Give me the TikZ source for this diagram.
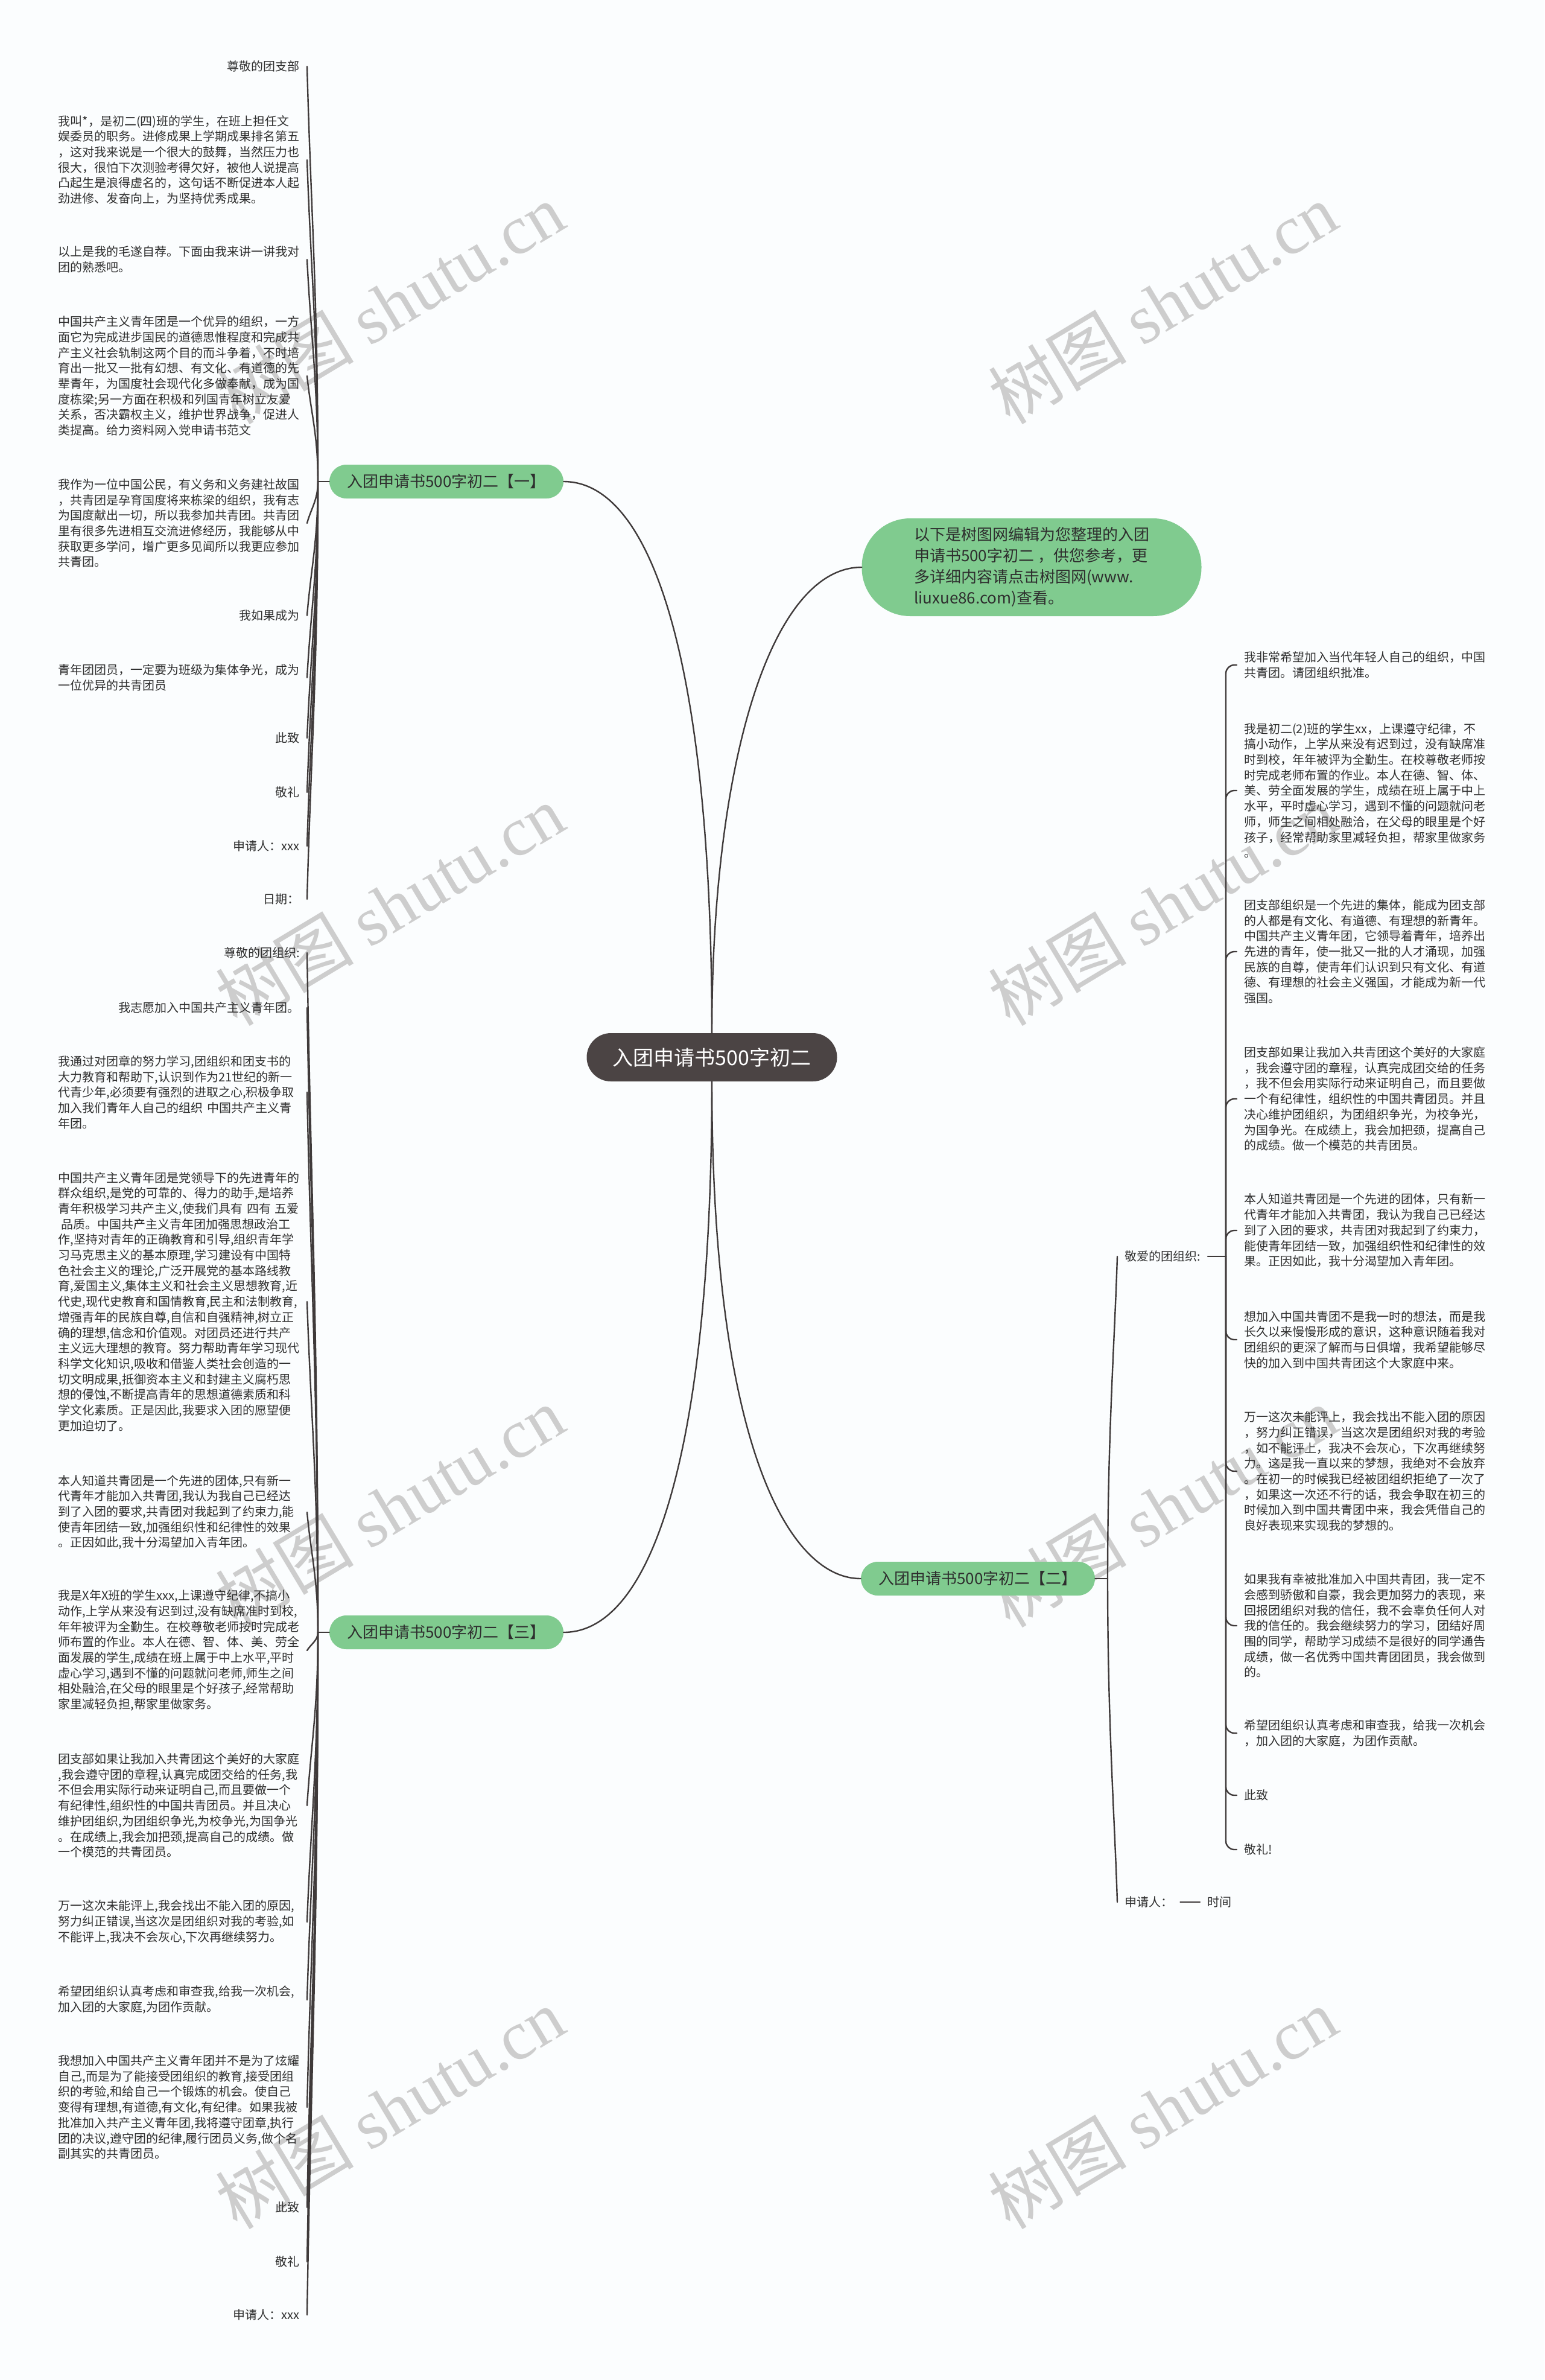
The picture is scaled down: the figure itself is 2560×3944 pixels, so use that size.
\documentclass[tikz,border=0pt]{standalone}
\usepackage{fontspec}
\setmainfont{Noto Sans CJK SC}
\newfontfamily\wmserif{Liberation Serif}
\usetikzlibrary{calc}
\definecolor{bgc}{HTML}{FBFDFE}
\definecolor{linec}{HTML}{3F3A3A}
\definecolor{textc}{HTML}{2E2E2E}
\definecolor{greenc}{HTML}{80CB8F}
\definecolor{darkc}{HTML}{4B4444}
\definecolor{wmc}{HTML}{CDCDCD}
\newcommand\lkid[2]{\draw[conn] (#1) .. controls ($(#1)!0.45!(#1|-#2.east)$) and ($(#2.east)!0.35!(#1)$) .. (#2.east);}
\newcommand\rkid[2]{\draw[conn,rounded corners=14pt] (#1) |- (#2.west);}
\begin{document}
\begin{tikzpicture}[x=1pt,y=-1pt,
  conn/.style={draw=linec,line width=2.4pt,line cap=round},
  txt/.style={font=\fontsize{20}{25.7}\selectfont,text=textc,inner xsep=12pt,inner ysep=2pt,align=left},
  ltxt/.style={txt,anchor=east},
  lpara/.style={ltxt,text width=400pt},
  rtxt/.style={txt,anchor=west},
  branch/.style={fill=greenc,rounded corners=28pt,minimum width=388pt,minimum height=56pt,font=\fontsize{26}{30}\selectfont,text=textc,inner sep=0},
  rootc/.style={fill=darkc,rounded corners=40pt,minimum width=415pt,minimum height=80pt,font=\fontsize{34}{40}\selectfont,text=white,inner sep=0},
  infoc/.style={fill=greenc,rounded corners=80pt,minimum width=563pt,minimum height=162pt,font=\fontsize{26}{35}\selectfont,text=textc,align=left},
  wm/.style={font=\fontsize{115}{115}\selectfont,text=wmc,rotate=31,inner sep=0}]
\fill[bgc] (0,0) rectangle (2560,3944);
\useasboundingbox (0,0) rectangle (2560,3944);
% watermarks
\foreach \wy in {503,1500,2497,3494}{
  \foreach \wx in {646,1927}{
    \node[wm] (wm-\wx-\wy) at (\wx,\wy) {树图 {\wmserif shutu.cn}};
  }
}
% main nodes
\node[rootc] (root) at (1180,1752) {入团申请书500字初二};
\node[branch] (b1) at (740,798) {入团申请书500字初二【一】};
\node[branch] (b3) at (740,2705) {入团申请书500字初二【三】};
\node[branch] (b2) at (1621,2616) {入团申请书500字初二【二】};
\node[infoc] (info) at (1710,940) {以下是树图网编辑为您整理的入团\\申请书500字初二 ，供您参考，更\\多详细内容请点击树图网(www.\\liuxue86.com)查看。};
\draw[conn] (b1.east) .. controls +(150,0) and +(0,-600) .. (root.north);
\draw[conn] (info.west) .. controls +(-150,0) and +(0,-450) .. (root.north);
\draw[conn] (b2.west) .. controls +(-120,0) and +(0,600) .. (root.south);
\draw[conn] (b3.east) .. controls +(150,0) and +(0,600) .. (root.south);
% ---------- branch one ----------
\coordinate (j1) at (527,798);
\draw[conn] (b1.west) -- (j1);
\node[ltxt] (c1) at (509,110) {尊敬的团支部};
\node[lpara] (c2) at (509,265) {我叫*，是初二(四)班的学生，在班上担任文\\娱委员的职务。进修成果上学期成果排名第五\\，这对我来说是一个很大的鼓舞，当然压力也\\很大，很怕下次测验考得欠好，被他人说提高\\凸起生是浪得虚名的，这句话不断促进本人起\\劲进修、发奋向上，为坚持优秀成果。};
\node[lpara] (c3) at (509,430) {以上是我的毛遂自荐。下面由我来讲一讲我对\\团的熟悉吧。};
\node[lpara] (c4) at (509,623) {中国共产主义青年团是一个优异的组织，一方\\面它为完成进步国民的道德思惟程度和完成共\\产主义社会轨制这两个目的而斗争着，不时培\\育出一批又一批有幻想、有文化、有道德的先\\辈青年，为国度社会现代化多做奉献，成为国\\度栋梁;另一方面在积极和列国青年树立友爱\\关系，否决霸权主义，维护世界战争，促进人\\类提高。给力资料网入党申请书范文};
\node[lpara] (c5) at (509,867) {我作为一位中国公民，有义务和义务建社故国\\，共青团是孕育国度将来栋梁的组织，我有志\\为国度献出一切，所以我参加共青团。共青团\\里有很多先进相互交流进修经历，我能够从中\\获取更多学问，增广更多见闻所以我更应参加\\共青团。};
\node[ltxt] (c6) at (509,1020) {我如果成为};
\node[lpara] (c7) at (509,1123) {青年团团员，一定要为班级为集体争光，成为\\一位优异的共青团员};
\node[ltxt] (c8) at (509,1223) {此致};
\node[ltxt] (c9) at (509,1313) {敬礼};
\node[ltxt] (c10) at (509,1402) {申请人：xxx};
\node[ltxt] (c11) at (509,1490) {日期：};
\foreach \k in {c1,c2,c3,c4,c5,c6,c7,c8,c9,c10,c11}{\lkid{j1}{\k}}
% ---------- branch three ----------
\coordinate (j3) at (527,2705);
\draw[conn] (b3.west) -- (j3);
\node[ltxt] (d1) at (509,1579) {尊敬的团组织:};
\node[ltxt] (d2) at (509,1670) {我志愿加入中国共产主义青年团。};
\node[lpara] (d3) at (509,1810) {我通过对团章的努力学习,团组织和团支书的\\大力教育和帮助下,认识到作为21世纪的新一\\代青少年,必须要有强烈的进取之心,积极争取\\加入我们青年人自己的组织~中国共产主义青\\年团。};
\node[lpara] (d4) at (509,2157) {中国共产主义青年团是党领导下的先进青年的\\群众组织,是党的可靠的、得力的助手,是培养\\青年积极学习共产主义,使我们具有~四有~五爱\\\hspace*{5pt}品质。中国共产主义青年团加强思想政治工\\作,坚持对青年的正确教育和引导,组织青年学\\习马克思主义的基本原理,学习建设有中国特\\色社会主义的理论,广泛开展党的基本路线教\\育,爱国主义,集体主义和社会主义思想教育,近\\代史,现代史教育和国情教育,民主和法制教育,\\增强青年的民族自尊,自信和自强精神,树立正\\确的理想,信念和价值观。对团员还进行共产\\主义远大理想的教育。努力帮助青年学习现代\\科学文化知识,吸收和借鉴人类社会创造的一\\切文明成果,抵御资本主义和封建主义腐朽思\\想的侵蚀,不断提高青年的思想道德素质和科\\学文化素质。正是因此,我要求入团的愿望便\\更加迫切了。};
\node[lpara] (d5) at (509,2506) {本人知道共青团是一个先进的团体,只有新一\\代青年才能加入共青团,我认为我自己已经达\\到了入团的要求,共青团对我起到了约束力,能\\使青年团结一致,加强组织性和纪律性的效果\\。正因如此,我十分渴望加入青年团。};
\node[lpara] (d6) at (509,2735) {我是X年X班的学生xxx,上课遵守纪律,不搞小\\动作,上学从来没有迟到过,没有缺席准时到校,\\年年被评为全勤生。在校尊敬老师按时完成老\\师布置的作业。本人在德、智、体、美、劳全\\面发展的学生,成绩在班上属于中上水平,平时\\虚心学习,遇到不懂的问题就问老师,师生之间\\相处融洽,在父母的眼里是个好孩子,经常帮助\\家里减轻负担,帮家里做家务。};
\node[lpara] (d7) at (509,2992) {团支部如果让我加入共青团这个美好的大家庭\\,我会遵守团的章程,认真完成团交给的任务,我\\不但会用实际行动来证明自己,而且要做一个\\有纪律性,组织性的中国共青团员。并且决心\\维护团组织,为团组织争光,为校争光,为国争光\\。在成绩上,我会加把颈,提高自己的成绩。做\\一个模范的共青团员。};
\node[lpara] (d8) at (509,3185) {万一这次未能评上,我会找出不能入团的原因,\\努力纠正错误,当这次是团组织对我的考验,如\\不能评上,我决不会灰心,下次再继续努力。};
\node[lpara] (d9) at (509,3314) {希望团组织认真考虑和审查我,给我一次机会,\\加入团的大家庭,为团作贡献。};
\node[lpara] (d10) at (509,3492) {我想加入中国共产主义青年团并不是为了炫耀\\自己,而是为了能接受团组织的教育,接受团组\\织的考验,和给自己一个锻炼的机会。使自己\\变得有理想,有道德,有文化,有纪律。如果我被\\批准加入共产主义青年团,我将遵守团章,执行\\团的决议,遵守团的纪律,履行团员义务,做个名\\副其实的共青团员。};
\node[ltxt] (d11) at (509,3658) {此致};
\node[ltxt] (d12) at (509,3748) {敬礼};
\node[ltxt] (d13) at (509,3836) {申请人：xxx};
\foreach \k in {d1,d2,d3,d4,d5,d6,d7,d8,d9,d10,d11,d12,d13}{\lkid{j3}{\k}}
% ---------- branch two ----------
\coordinate (jb2) at (1836,2616);
\draw[conn] (b2.east) -- (jb2);
\node[rtxt] (ra) at (1852,2082) {敬爱的团组织:};
\node[rtxt] (rb) at (1852,3152) {申请人：};
\node[rtxt] (rc) at (1989,3152) {时间};
\draw[conn] (jb2) .. controls ($(jb2)!0.45!(jb2|-ra.west)$) and ($(ra.west)!0.25!(jb2)$) .. (ra.west);
\draw[conn] (jb2) .. controls ($(jb2)!0.45!(jb2|-rb.west)$) and ($(rb.west)!0.25!(jb2)$) .. (rb.west);
\draw[conn] (rb.east) -- (rc.west);
\coordinate (j2) at (2032,2082);
\draw[conn] (ra.east) -- (j2);
\node[rtxt] (r1) at (2050,1102) {我非常希望加入当代年轻人自己的组织，中国\\共青团。请团组织批准。};
\node[rtxt] (r2) at (2050,1310) {我是初二(2)班的学生xx，上课遵守纪律，不\\搞小动作，上学从来没有迟到过，没有缺席准\\时到校，年年被评为全勤生。在校尊敬老师按\\时完成老师布置的作业。本人在德、智、体、\\美、劳全面发展的学生，成绩在班上属于中上\\水平，平时虚心学习，遇到不懂的问题就问老\\师，师生之间相处融洽，在父母的眼里是个好\\孩子，经常帮助家里减轻负担，帮家里做家务\\。};
\node[rtxt] (r3) at (2050,1577) {团支部组织是一个先进的集体，能成为团支部\\的人都是有文化、有道德、有理想的新青年。\\中国共产主义青年团，它领导着青年，培养出\\先进的青年，使一批又一批的人才涌现，加强\\民族的自尊，使青年们认识到只有文化、有道\\德、有理想的社会主义强国，才能成为新一代\\强国。};
\node[rtxt] (r4) at (2050,1821) {团支部如果让我加入共青团这个美好的大家庭\\，我会遵守团的章程，认真完成团交给的任务\\，我不但会用实际行动来证明自己，而且要做\\一个有纪律性，组织性的中国共青团员。并且\\决心维护团组织，为团组织争光，为校争光，\\为国争光。在成绩上，我会加把颈，提高自己\\的成绩。做一个模范的共青团员。};
\node[rtxt] (r5) at (2050,2039) {本人知道共青团是一个先进的团体，只有新一\\代青年才能加入共青团，我认为我自己已经达\\到了入团的要求，共青团对我起到了约束力，\\能使青年团结一致，加强组织性和纪律性的效\\果。正因如此，我十分渴望加入青年团。};
\node[rtxt] (r6) at (2050,2220) {想加入中国共青团不是我一时的想法，而是我\\长久以来慢慢形成的意识，这种意识随着我对\\团组织的更深了解而与日俱增，我希望能够尽\\快的加入到中国共青团这个大家庭中来。};
\node[rtxt] (r7) at (2050,2438) {万一这次未能评上，我会找出不能入团的原因\\，努力纠正错误，当这次是团组织对我的考验\\，如不能评上，我决不会灰心，下次再继续努\\力。这是我一直以来的梦想，我绝对不会放弃\\。在初一的时候我已经被团组织拒绝了一次了\\，如果这一次还不行的话，我会争取在初三的\\时候加入到中国共青团中来，我会凭借自己的\\良好表现来实现我的梦想的。};
\node[rtxt] (r8) at (2050,2694) {如果我有幸被批准加入中国共青团，我一定不\\会感到骄傲和自豪，我会更加努力的表现，来\\回报团组织对我的信任，我不会辜负任何人对\\我的信任的。我会继续努力的学习，团结好周\\围的同学，帮助学习成绩不是很好的同学通告\\成绩，做一名优秀中国共青团团员，我会做到\\的。};
\node[rtxt] (r9) at (2050,2872) {希望团组织认真考虑和审查我，给我一次机会\\，加入团的大家庭，为团作贡献。};
\node[rtxt] (r10) at (2050,2975) {此致};
\node[rtxt] (r11) at (2050,3065) {敬礼!};
\foreach \k in {r1,r2,r3,r4,r5,r6,r7,r8,r9,r10,r11}{\rkid{j2}{\k}}
\end{tikzpicture}
\end{document}
